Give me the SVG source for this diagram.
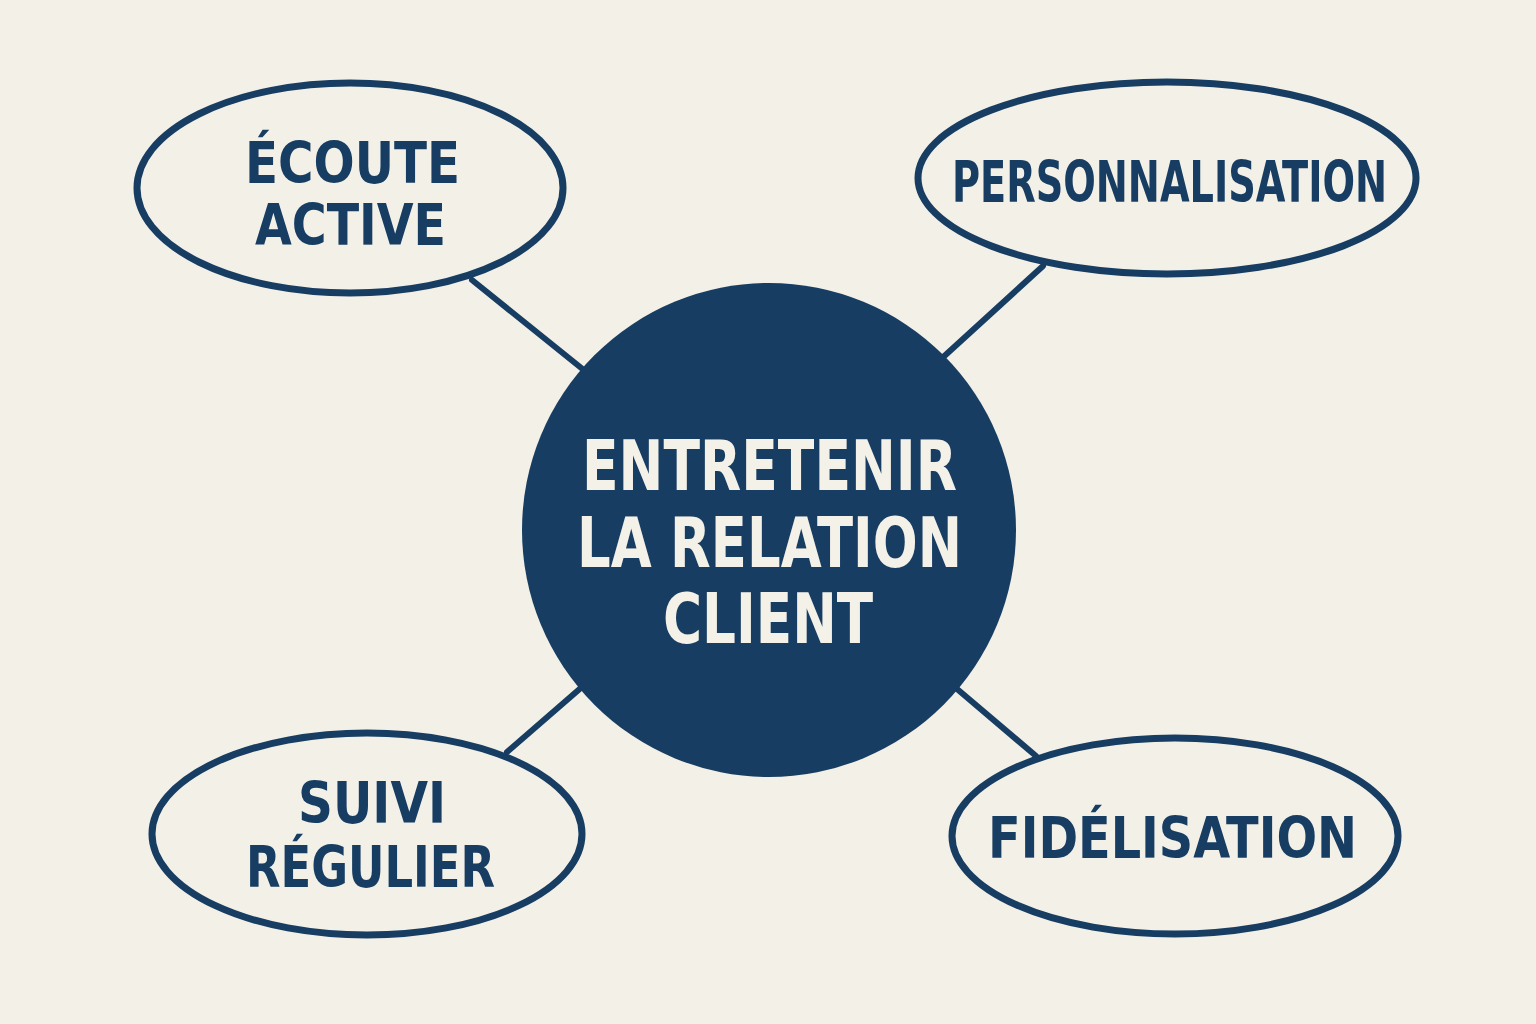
<svg xmlns="http://www.w3.org/2000/svg" width="1536" height="1024" viewBox="0 0 1536 1024">
<style>
.bg{fill:#f3f0e7}
.node{fill:none;stroke:#173d63;stroke-width:7}
.conn{stroke:#173d63;stroke-width:6;stroke-linecap:round}
.lbl{font-family:"DejaVu Sans Condensed","DejaVu Sans",sans-serif;font-weight:bold;fill:#173d63}
.clbl{font-family:"DejaVu Sans Condensed","DejaVu Sans",sans-serif;font-weight:bold;fill:#f4f1e8}
</style>
<rect class="bg" x="0" y="0" width="1536" height="1024"/>
<g id="connectors">
<line class="conn" x1="472" y1="280" x2="590" y2="375"/>
<line class="conn" x1="1043" y1="266" x2="940" y2="360"/>
<line class="conn" x1="590" y1="680" x2="507" y2="752"/>
<line class="conn" x1="950" y1="683" x2="1036" y2="756"/>
</g>
<g id="center">
<circle cx="769" cy="530" r="247" fill="#173d63"/>
<text class="clbl" x="582" y="490" font-size="70" textLength="375" lengthAdjust="spacingAndGlyphs">ENTRETENIR</text>
<text class="clbl" x="577" y="567" font-size="70" textLength="385" lengthAdjust="spacingAndGlyphs">LA RELATION</text>
<text class="clbl" x="663" y="643" font-size="70" textLength="210" lengthAdjust="spacingAndGlyphs">CLIENT</text>
</g>
<g id="ecoute">
<ellipse class="node" cx="350" cy="188" rx="213" ry="105"/>
<text class="lbl" x="245" y="183" font-size="57" textLength="215" lengthAdjust="spacingAndGlyphs">ÉCOUTE</text>
<text class="lbl" x="255" y="245" font-size="57" textLength="191" lengthAdjust="spacingAndGlyphs">ACTIVE</text>
</g>
<g id="personnalisation">
<ellipse class="node" cx="1167" cy="178" rx="249" ry="96"/>
<text class="lbl" x="952" y="202" font-size="57" textLength="435" lengthAdjust="spacingAndGlyphs">PERSONNALISATION</text>
</g>
<g id="suivi">
<ellipse class="node" cx="367" cy="834" rx="215" ry="101"/>
<text class="lbl" x="298" y="823" font-size="57" textLength="148" lengthAdjust="spacingAndGlyphs">SUIVI</text>
<text class="lbl" x="246" y="887" font-size="57" textLength="249" lengthAdjust="spacingAndGlyphs">RÉGULIER</text>
</g>
<g id="fidelisation">
<ellipse class="node" cx="1175" cy="836" rx="223" ry="98"/>
<text class="lbl" x="988" y="858" font-size="57" textLength="369" lengthAdjust="spacingAndGlyphs">FIDÉLISATION</text>
</g>
</svg>
